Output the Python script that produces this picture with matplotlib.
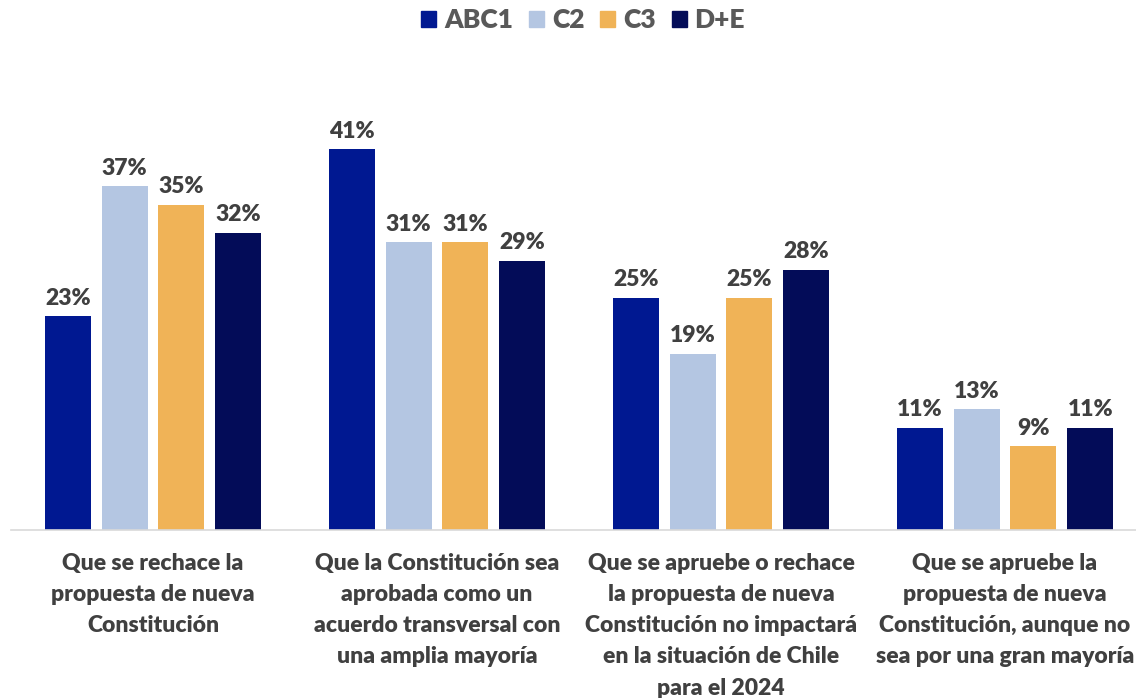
import matplotlib
matplotlib.use("Agg")
import matplotlib.pyplot as plt
import numpy as np
from matplotlib.patches import Patch

categories = [
    "Que se rechace la\npropuesta de nueva\nConstitución",
    "Que la Constitución sea\naprobada como un\nacuerdo transversal con\nuna amplia mayoría",
    "Que se apruebe o rechace\nla propuesta de nueva\nConstitución no impactará\nen la situación de Chile\npara el 2024",
    "Que se apruebe la\npropuesta de nueva\nConstitución, aunque no\nsea por una gran mayoría",
]
series = ["ABC1", "C2", "C3", "D+E"]
abc1 = [23, 41, 25, 11]
c2 = [37, 31, 19, 13]
c3 = [35, 31, 25, 9]
de = [32, 29, 28, 11]
colors = ["#001891", "#b4c6e2", "#f0b357", "#030c58"]

plt.rcParams["font.family"] = ["Lato", "DejaVu Sans"]
text_color = "#404040"

fig = plt.figure(figsize=(11.36, 6.98), dpi=100)
ax = fig.add_axes([11 / 1136, 1 - 530 / 698, 1136 / 1136, (530 - 112) / 698])

x = np.arange(len(categories))
pitch = 0.2
width = 0.162
for i, (name, vals) in enumerate(zip(series, [abc1, c2, c3, de])):
    pos = x + (i - 1.5) * pitch
    ax.bar(pos, vals, width, color=colors[i], label=name, zorder=2)
    for p, v in zip(pos, vals):
        ax.text(p, v + 0.8, f"{v}%", ha="center", va="bottom",
                fontsize=16.5, fontweight="heavy", color=text_color)

ax.set_xlim(-0.5, 3.5)
ax.set_ylim(0, 45)
ax.set_yticks([])
ax.set_xticks([])
for s in ["top", "right", "left"]:
    ax.spines[s].set_visible(False)
ax.spines["bottom"].set_color("#d9d9d9")
ax.spines["bottom"].set_linewidth(1.2)

for xi, lab in zip(x, categories):
    ax.text(xi, -2.45, lab, ha="center", va="top", fontsize=16.5, fontweight="heavy",
            color=text_color, linespacing=1.6, transform=ax.transData)

handles = [Patch(color=c, label=s) for c, s in zip(colors, series)]
fig.legend(handles=handles, loc="center", bbox_to_anchor=(583 / 1136, 1 - 20 / 698),
           ncol=4, frameon=False, handlelength=0.57, handleheight=0.57,
           handletextpad=0.3, columnspacing=0.6,
           prop={"size": 19, "weight": "heavy"}, labelcolor="#595959")

fig.savefig("out.png", dpi=100)
